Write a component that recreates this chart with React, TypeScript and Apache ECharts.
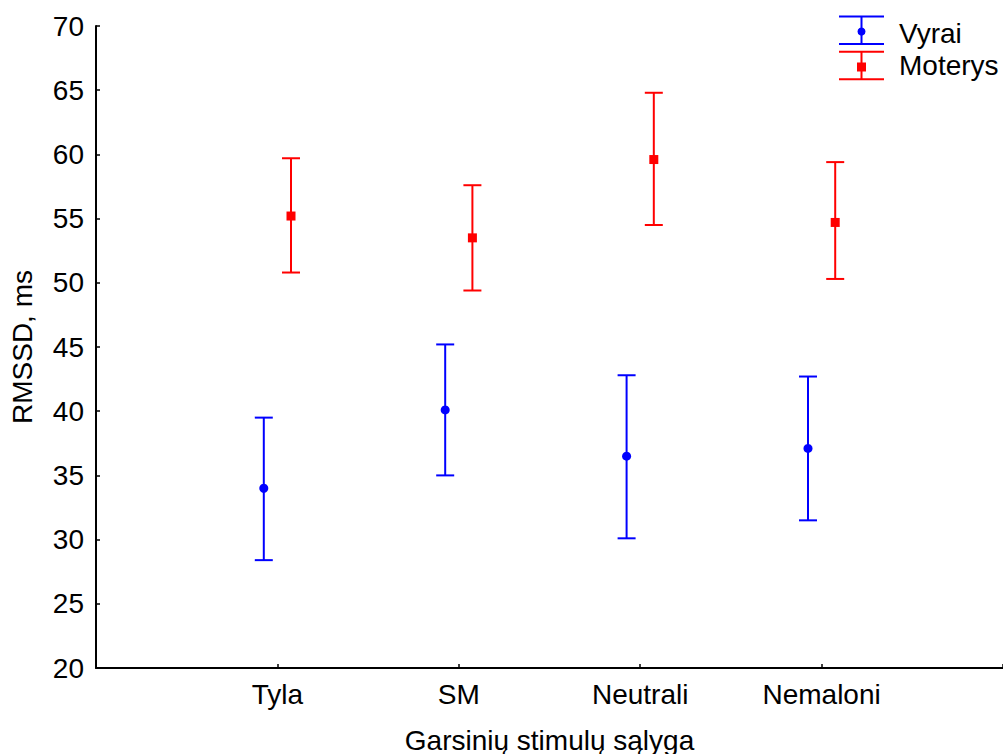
import React, { useEffect, useRef } from "react";
import * as echarts from "echarts";

const categories = ["Tyla", "SM", "Neutrali", "Nemaloni"];
const seriesNames = ["Vyrai", "Moterys"];
const vyraiMean = [34.0, 40.1, 36.5, 37.1];
const vyraiLow = [28.4, 35.0, 30.1, 31.5];
const vyraiHigh = [39.5, 45.2, 42.8, 42.7];
const moterysMean = [55.2, 53.5, 59.6, 54.7];
const moterysLow = [50.8, 49.4, 54.5, 50.3];
const moterysHigh = [59.7, 57.6, 64.8, 59.4];
const yTicks = { min: 20, max: 70, interval: 5 };

const BLUE = "#0000ff";
const RED = "#ff0000";
const FONT = "'Liberation Sans', Arial, sans-serif";
const FS = 28;
const OFFSET = 0.075;

function errRender(color: string) {
  return (params: any, api: any) => {
    const x = api.value(0);
    const lo = api.coord([x, api.value(1)]);
    const hi = api.coord([x, api.value(2)]);
    const w = 9;
    const st = { stroke: color, lineWidth: 2 };
    return {
      type: "group",
      children: [
        { type: "line", shape: { x1: lo[0], y1: lo[1], x2: hi[0], y2: hi[1] }, style: st },
        { type: "line", shape: { x1: hi[0] - w, y1: hi[1], x2: hi[0] + w, y2: hi[1] }, style: st },
        { type: "line", shape: { x1: lo[0] - w, y1: lo[1], x2: lo[0] + w, y2: lo[1] }, style: st },
      ],
    };
  };
}

export default function App() {
  const ref = useRef<HTMLDivElement>(null);
  useEffect(() => {
    if (!ref.current) return;
    const chart = echarts.init(ref.current, null, { renderer: "svg" });
    const vx = categories.map((_, i) => i + 1 - OFFSET);
    const mx = categories.map((_, i) => i + 1 + OFFSET);
    const lg = { x1: 839, x2: 884, xc: 861.5, tx: 899 };
    chart.setOption({
      animation: false,
      backgroundColor: "#ffffff",
      textStyle: { fontFamily: FONT },
      grid: { left: 96, top: 26, right: 0, bottom: 86, containLabel: false, outerBoundsMode: "none" },
      xAxis: {
        type: "value",
        min: 0,
        max: 5,
        interval: 1,
        name: "Garsinių stimulų sąlyga",
        nameLocation: "middle",
        nameGap: 58,
        nameTextStyle: { fontSize: FS, color: "#000", fontFamily: FONT },
        axisLine: { lineStyle: { color: "#000", width: 2 } },
        axisTick: { inside: true, length: 4, lineStyle: { color: "#000", width: 1.5 } },
        axisLabel: {
          fontSize: FS,
          color: "#000",
          fontFamily: FONT,
          margin: 12,
          formatter: (v: number) => categories[v - 1] ?? "",
        },
        splitLine: { show: false },
      },
      yAxis: {
        type: "value",
        min: yTicks.min,
        max: yTicks.max,
        interval: yTicks.interval,
        name: "RMSSD, ms",
        nameLocation: "middle",
        nameGap: 60,
        nameTextStyle: { fontSize: FS, color: "#000", fontFamily: FONT },
        axisLine: { show: true, lineStyle: { color: "#000", width: 2 } },
        axisTick: { show: true, inside: true, length: 4, lineStyle: { color: "#000", width: 1.5 } },
        axisLabel: { fontSize: FS, color: "#000", fontFamily: FONT, margin: 12 },
        splitLine: { show: false },
      },
      series: [
        {
          name: seriesNames[0] + " err",
          type: "custom",
          renderItem: errRender(BLUE),
          data: vx.map((x, i) => [x, vyraiLow[i], vyraiHigh[i]]),
          z: 2,
        },
        {
          name: seriesNames[1] + " err",
          type: "custom",
          renderItem: errRender(RED),
          data: mx.map((x, i) => [x, moterysLow[i], moterysHigh[i]]),
          z: 2,
        },
        {
          name: seriesNames[0],
          type: "scatter",
          symbol: "circle",
          symbolSize: 9,
          itemStyle: { color: BLUE, opacity: 1 },
          data: vx.map((x, i) => [x, vyraiMean[i]]),
          z: 3,
        },
        {
          name: seriesNames[1],
          type: "scatter",
          symbol: "rect",
          symbolSize: 9,
          itemStyle: { color: RED, opacity: 1 },
          data: mx.map((x, i) => [x, moterysMean[i]]),
          z: 3,
        },
      ],
      graphic: [
        { type: "line", shape: { x1: lg.x1, y1: 16.5, x2: lg.x2, y2: 16.5 }, style: { stroke: BLUE, lineWidth: 2 } },
        { type: "line", shape: { x1: lg.x1, y1: 44, x2: lg.x2, y2: 44 }, style: { stroke: BLUE, lineWidth: 2 } },
        { type: "line", shape: { x1: lg.xc, y1: 16.5, x2: lg.xc, y2: 44 }, style: { stroke: BLUE, lineWidth: 2 } },
        { type: "circle", shape: { cx: lg.xc, cy: 31.5, r: 4 }, style: { fill: BLUE } },
        { type: "text", x: lg.tx, y: 33, style: { text: seriesNames[0], fill: "#000", fontSize: FS, fontFamily: FONT, verticalAlign: "middle", align: "left" } },
        { type: "line", shape: { x1: lg.x1, y1: 51.7, x2: lg.x2, y2: 51.7 }, style: { stroke: RED, lineWidth: 2 } },
        { type: "line", shape: { x1: lg.x1, y1: 79.3, x2: lg.x2, y2: 79.3 }, style: { stroke: RED, lineWidth: 2 } },
        { type: "line", shape: { x1: lg.xc, y1: 51.7, x2: lg.xc, y2: 79.3 }, style: { stroke: RED, lineWidth: 2 } },
        { type: "rect", shape: { x: lg.xc - 4.5, y: 62.5, width: 9, height: 9 }, style: { fill: RED } },
        { type: "text", x: lg.tx, y: 65, style: { text: seriesNames[1], fill: "#000", fontSize: FS, fontFamily: FONT, verticalAlign: "middle", align: "left" } },
      ],
    });
    return () => chart.dispose();
  }, []);
  return (
    <div
      ref={ref}
      style={{ position: "fixed", left: 0, top: 0, width: 1003, height: 754, background: "#fff" }}
    />
  );
}
